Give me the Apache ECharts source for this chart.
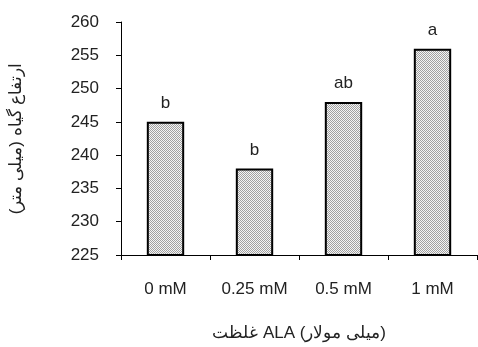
<!DOCTYPE html>
<html><head><meta charset="utf-8">
<script src="https://cdn.jsdelivr.net/npm/echarts@6/dist/echarts.min.js"></script>
<style>html,body{margin:0;padding:0;background:#fff}#c{width:478px;height:347px}</style>
</head><body><div id="c"></div>
<script>
const categories = ['0 mM', '0.25 mM', '0.5 mM', '1 mM'];
const values = [245, 238, 248, 256];
const letters = ['b', 'b', 'ab', 'a'];
const yTicks = [225, 230, 235, 240, 245, 250, 255, 260];

const pc = document.createElement('canvas');
pc.width = 2; pc.height = 2;
const g = pc.getContext('2d');
g.fillStyle = '#f4f4f4'; g.fillRect(0,0,2,2);
g.fillStyle = '#a0a0a0'; g.fillRect(0,0,1,1); g.fillRect(1,1,1,1);

const chart = echarts.init(document.getElementById('c'));
const font = 'Liberation Sans, Arial, sans-serif';
chart.setOption({
  animation: false,
  grid: {left: 121, right: 1, top: 22, bottom: 92},
  xAxis: {
    type: 'category', data: categories,
    axisLine: {lineStyle: {color: '#000', width: 1}},
    axisTick: {show: true, length: 5, lineStyle: {color: '#000'}},
    axisLabel: {color: '#222', fontSize: 17, fontFamily: font, margin: 26},
    name: 'غلظت ALA (میلی مولار)', nameLocation: 'middle', nameGap: 70,
    nameTextStyle: {color: '#222', fontSize: 17, fontFamily: font}
  },
  yAxis: {
    type: 'value', min: yTicks[0], max: yTicks[yTicks.length-1], interval: 5,
    axisLine: {show: true, lineStyle: {color: '#000', width: 1}},
    axisTick: {show: true, length: 5, lineStyle: {color: '#000'}},
    splitLine: {show: false},
    axisLabel: {color: '#222', fontSize: 17, fontFamily: font, margin: 22},
    name: 'ارتفاع گیاه (میلی متر)', nameLocation: 'middle', nameGap: 96,
    nameTextStyle: {color: '#222', fontSize: 17, fontFamily: font}
  },
  series: [{
    type: 'bar', data: values, barWidth: '42%',
    itemStyle: {color: {image: pc, repeat: 'repeat'}, borderColor: '#000', borderWidth: 2},
    label: {show: true, position: 'top', distance: 10, color: '#222', fontSize: 17, fontFamily: font,
      formatter: p => letters[p.dataIndex]}
  }]
});
</script></body></html>
